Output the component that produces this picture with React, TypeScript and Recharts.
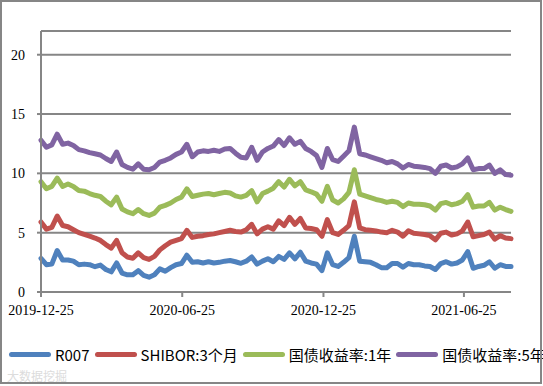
import { LineChart, Line, XAxis, YAxis, CartesianGrid } from "recharts";

// weekly readings, first point 2019-12-25
const startDate = "2019-12-25";
const tickLabels = ["2019-12-25", "2020-06-25", "2020-12-25", "2021-06-25"];
const yTicks = [0, 5, 10, 15, 20];

const seriesNames = ["R007", "SHIBOR:3个月", "国债收益率:1年", "国债收益率:5年"];
const seriesKeys = ["r007", "shibor", "gov1y", "gov5y"];
const seriesColors = ["#4F81BD", "#C0504D", "#9BBB59", "#8064A2"];

const r007 = [
  2.83, 2.3, 2.35, 3.5, 2.69, 2.7, 2.6, 2.3, 2.35, 2.3,
  2.13, 2.27, 1.9, 1.7, 2.45, 1.6, 1.45, 1.45, 1.8, 1.4,
  1.25, 1.45, 1.95, 1.75, 2.05, 2.3, 2.4, 3.1, 2.5, 2.55,
  2.45, 2.55, 2.45, 2.5, 2.6, 2.65, 2.55, 2.42, 2.6, 2.95,
  2.35, 2.6, 2.8, 2.55, 3.0, 2.75, 3.3, 2.8, 3.35, 2.6,
  2.45, 2.35, 1.8, 3.3, 2.3, 2.15, 2.5, 2.9, 4.7, 2.6,
  2.55, 2.5, 2.3, 2.05, 2.05, 2.4, 2.4, 2.1, 2.4, 2.3,
  2.3, 2.2, 2.15, 1.9, 2.4, 2.55, 2.35, 2.45, 2.7, 3.4,
  2.0, 2.15, 2.25, 2.55, 2.0, 2.3, 2.15, 2.15,
];
const shibor = [
  5.9, 5.3, 5.45, 6.4, 5.6, 5.5, 5.25, 5.0, 4.85, 4.7,
  4.55, 4.35, 4.0, 3.7, 4.35, 3.3, 2.95, 2.85, 3.3, 2.9,
  2.75, 3.0, 3.55, 3.9, 4.2, 4.35, 4.5, 5.2, 4.6, 4.7,
  4.75, 4.85, 4.9, 5.0, 5.1, 5.2, 5.1, 5.05, 5.25, 5.7,
  4.9, 5.3, 5.5, 5.3, 6.0, 5.6, 6.3, 5.7, 6.2, 5.4,
  5.35, 5.25, 4.7, 6.1, 5.0, 4.85, 5.2, 5.6, 7.6, 5.4,
  5.25, 5.2, 5.15, 5.05, 5.0, 5.2, 5.05, 4.7, 5.15, 4.95,
  4.9, 4.85, 4.75, 4.4, 4.95, 5.05, 4.8, 4.9, 5.15, 5.9,
  4.65, 4.75, 4.85, 5.05, 4.45, 4.75, 4.55, 4.5,
];
const gov1y = [
  9.3, 8.7, 8.9, 9.6, 8.9, 9.1, 8.9, 8.55, 8.5, 8.3,
  8.15, 8.05, 7.65, 7.35, 8.0, 7.0, 6.75, 6.6, 6.95, 6.6,
  6.45, 6.65, 7.15, 7.3, 7.5, 7.8, 8.0, 8.7, 8.05, 8.15,
  8.25, 8.3, 8.2, 8.3, 8.4, 8.35, 8.1, 8.0, 8.15, 8.55,
  7.6, 8.3, 8.5, 8.75, 9.3, 8.85, 9.5, 8.95, 9.3, 8.6,
  8.45, 8.25, 7.65, 8.9, 7.75, 7.5, 7.85, 8.4, 10.3, 8.25,
  8.1, 7.95, 7.8, 7.7, 7.55, 7.65, 7.55, 7.2, 7.5, 7.4,
  7.4, 7.35, 7.25, 6.9, 7.45, 7.55, 7.35, 7.45, 7.65, 8.2,
  7.15, 7.25, 7.25, 7.55, 6.9, 7.15, 6.95, 6.8,
];
const gov5y = [
  12.8, 12.2, 12.4, 13.3, 12.45, 12.55, 12.35, 12.0, 11.9, 11.75,
  11.65, 11.55, 11.25, 11.0, 11.8, 10.75, 10.5, 10.35, 10.8, 10.35,
  10.3, 10.5, 10.95, 11.1, 11.3, 11.6, 11.8, 12.45, 11.4, 11.8,
  11.9, 11.85, 11.95, 11.85, 12.05, 12.1, 11.7, 11.35, 11.3, 12.2,
  11.1, 11.8, 12.1, 12.3, 12.85, 12.35, 13.0, 12.45, 12.7, 12.1,
  11.85, 11.5, 10.5, 12.1, 11.15, 11.0, 11.45, 11.9, 13.9, 11.65,
  11.55, 11.4, 11.25, 11.1, 10.9, 11.0, 10.8, 10.45, 10.75, 10.6,
  10.55, 10.5, 10.4, 10.0, 10.6, 10.7, 10.45, 10.55, 10.8, 11.3,
  10.3, 10.4, 10.4, 10.7, 10.0, 10.3, 9.9, 9.85,
];

const DAY = 86400000;
const t0 = Date.parse(startDate);
const data = r007.map((v, i) => ({
  t: t0 + i * 7 * DAY,
  r007: v,
  shibor: shibor[i],
  gov1y: gov1y[i],
  gov5y: gov5y[i],
}));

const gray = "#868686";
const serif = "'Liberation Serif', 'Times New Roman', serif";
const fmtDate = (t: number) => new Date(t).toISOString().slice(0, 10);

export default function App() {
  return (
    <div style={{ position: "absolute", left: 0, top: 0, width: 543, height: 386, background: "#fff", overflow: "hidden" }}>
      <LineChart width={543} height={386} data={data} margin={{ top: 31, right: 32, bottom: 0, left: 0 }}>
        <CartesianGrid vertical={false} stroke={gray} strokeWidth={2} />
        <XAxis
          type="number"
          dataKey="t"
          domain={[data[0].t, data[data.length - 1].t]}
          ticks={tickLabels.map((d) => Date.parse(d))}
          tickFormatter={fmtDate}
          interval={0}
          height={94}
          axisLine={{ stroke: gray, strokeWidth: 2 }}
          tickLine={{ stroke: gray, strokeWidth: 2 }}
          tickSize={5}
          tickMargin={8}
          tick={{ fill: "#000", fontSize: 14, fontFamily: serif }}
        />
        <YAxis
          domain={[0, 22]}
          ticks={yTicks}
          interval={0}
          width={41}
          axisLine={{ stroke: gray, strokeWidth: 2 }}
          tickLine={{ stroke: gray, strokeWidth: 2 }}
          tickSize={4}
          tickMargin={12}
          tick={{ fill: "#000", fontSize: 14, fontFamily: serif }}
        />
        {seriesKeys.map((k, i) => (
          <Line
            key={k}
            type="linear"
            dataKey={k}
            name={seriesNames[i]}
            stroke={seriesColors[i]}
            strokeWidth={5}
            strokeLinecap="round"
            strokeLinejoin="round"
            dot={false}
            isAnimationActive={false}
          />
        ))}
      </LineChart>

      <div
        style={{
          position: "absolute",
          left: 9,
          top: 344,
          height: 20,
          display: "flex",
          alignItems: "center",
          whiteSpace: "nowrap",
          fontFamily: "'Noto Sans CJK SC', 'Noto Sans', sans-serif",
          fontSize: 15,
          color: "#000",
        }}
      >
        {seriesNames.map((n, i) => (
          <div key={n} style={{ display: "flex", alignItems: "center", marginRight: 5 }}>
            <span style={{ display: "inline-block", width: 42, height: 5, borderRadius: 3, background: seriesColors[i], marginRight: 4 }} />
            <span>{n}</span>
          </div>
        ))}
      </div>

      <div
        style={{
          position: "absolute",
          left: 7,
          top: 367,
          fontFamily: "'Noto Sans CJK SC', sans-serif",
          fontSize: 12,
          color: "#dcdcdc",
          whiteSpace: "nowrap",
        }}
      >
        大数据挖掘
      </div>

      <div
        style={{
          position: "absolute",
          left: 0,
          top: 0,
          width: 542,
          height: 384,
          boxSizing: "border-box",
          border: `2px solid ${gray}`,
          pointerEvents: "none",
        }}
      />
    </div>
  );
}
